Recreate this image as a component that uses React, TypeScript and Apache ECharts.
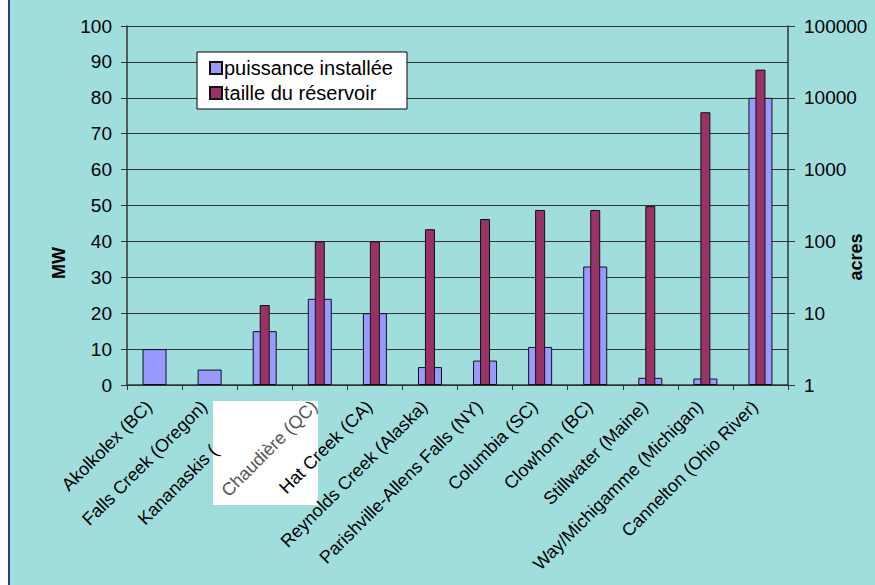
import React, { useEffect, useRef } from "react";
import * as echarts from "echarts";

const categories = [
  "Akolkolex (BC)",
  "Falls Creek (Oregon)",
  "Kananaskis (Alberta)",
  "Chaudière (QC)",
  "Hat Creek (CA)",
  "Reynolds Creek (Alaska)",
  "Parishville-Allens Falls (NY)",
  "Columbia (SC)",
  "Clowhom (BC)",
  "Stillwater (Maine)",
  "Way/Michigamme (Michigan)",
  "Cannelton (Ohio River)",
];

const puissance = [10, 4.3, 15, 24, 20, 5, 6.8, 10.6, 33, 2, 1.8, 80];
const reservoir = [null, null, 13, 100, 100, 148, 205, 274, 274, 310, 6300, 24700];

const TEAL = "#A0DEDE";
const BLUE = "#9999FF";
const MAROON = "#993366";
const FONT = "Arial, 'Liberation Sans', sans-serif";

export default function App() {
  const ref = useRef<HTMLDivElement>(null);
  useEffect(() => {
    if (!ref.current) return;
    const chart = echarts.init(ref.current, undefined, { renderer: "svg" });
    chart.setOption({
      animation: false,
      backgroundColor: TEAL,
      textStyle: { fontFamily: FONT },
      grid: { left: 127, right: 87, top: 26, bottom: 200, containLabel: false },
      legend: {
        orient: "vertical",
        left: 197,
        top: 52,
        backgroundColor: "#FFFFFF",
        borderColor: "#000000",
        borderWidth: 1,
        borderRadius: 0,
        padding: [6, 14, 6, 12],
        itemGap: 5,
        itemWidth: 12,
        itemHeight: 12,
        icon: "rect",
        textStyle: { fontSize: 20, color: "#000", fontFamily: FONT, padding: [0, 0, 0, -3] },
        data: ["puissance installée", "taille du réservoir"],
      },
      xAxis: [
        {
          type: "category",
          data: categories,
          boundaryGap: true,
          axisLine: { lineStyle: { color: "#333", width: 1.5 } },
          axisTick: { show: true, length: 5, lineStyle: { color: "#333" } },
          axisLabel: {
            rotate: 45,
            interval: 0,
            margin: 13,
            padding: [0, 8, 0, 0],
            fontSize: 18,
            color: "#000",
            fontFamily: FONT,
            formatter: (v: string) => {
              if (v === "Chaudière (QC)") return "{g|" + v + "}";
              if (v === "Kananaskis (Alberta)") return "Kananaskis ({h|Alberta)}";
              return v;
            },
            rich: {
              g: { color: "#555", fontSize: 18, fontFamily: FONT },
              h: { color: "rgba(0,0,0,0)", fontSize: 18, fontFamily: FONT },
            },
          },
        },
        {
          type: "category",
          data: categories,
          show: false,
          boundaryGap: true,
        },
      ],
      yAxis: [
        {
          type: "value",
          min: 0,
          max: 100,
          interval: 10,
          axisLine: { show: true, lineStyle: { color: "#333", width: 1.5 } },
          axisTick: { show: true, length: 6, lineStyle: { color: "#333" } },
          axisLabel: { fontSize: 19, color: "#000", margin: 15, fontFamily: FONT },
          splitLine: { show: true, lineStyle: { color: "#333", width: 1 } },
        },
        {
          type: "log",
          logBase: 10,
          min: 1,
          max: 100000,
          axisLine: { show: true, lineStyle: { color: "#333", width: 1.5 } },
          axisTick: { show: true, length: 7, lineStyle: { color: "#333" } },
          axisLabel: {
            fontSize: 19,
            color: "#000",
            margin: 16,
            fontFamily: FONT,
            formatter: (v: number) => String(Math.round(v)),
          },
          splitLine: { show: false },
        },
      ],
      series: [
        {
          name: "puissance installée",
          type: "bar",
          xAxisIndex: 0,
          yAxisIndex: 0,
          data: puissance,
          barWidth: 24,
          itemStyle: { color: BLUE, borderColor: "#111", borderWidth: 1 },
        },
        {
          name: "taille du réservoir",
          type: "bar",
          xAxisIndex: 1,
          yAxisIndex: 1,
          data: reservoir,
          barWidth: 10,
          itemStyle: { color: MAROON, borderColor: "#111", borderWidth: 1 },
        },
      ],
      graphic: [
        { type: "rect", z: -1, shape: { x: 0, y: 0, width: 8, height: 585 }, style: { fill: "#FFFFFF" } },
        { type: "line", z: -1, shape: { x1: 9, y1: 0, x2: 9, y2: 585 }, style: { stroke: "#24407A", lineWidth: 2 } },
        { type: "rect", z: -1, shape: { x: 213, y: 401, width: 105, height: 104 }, style: { fill: "#FFFFFF" } },
        {
          type: "text",
          x: 59,
          y: 263,
          rotation: Math.PI / 2,
          style: { text: "MW", font: "bold 18px " + FONT, fill: "#000", textAlign: "center", textVerticalAlign: "middle" },
        },
        {
          type: "text",
          x: 856,
          y: 257,
          rotation: Math.PI / 2,
          style: { text: "acres", font: "bold 18px " + FONT, fill: "#000", textAlign: "center", textVerticalAlign: "middle" },
        },
      ],
    });
    return () => chart.dispose();
  }, []);
  return (
    <div
      ref={ref}
      style={{ position: "fixed", left: 0, top: 0, width: 875, height: 585 }}
    />
  );
}
